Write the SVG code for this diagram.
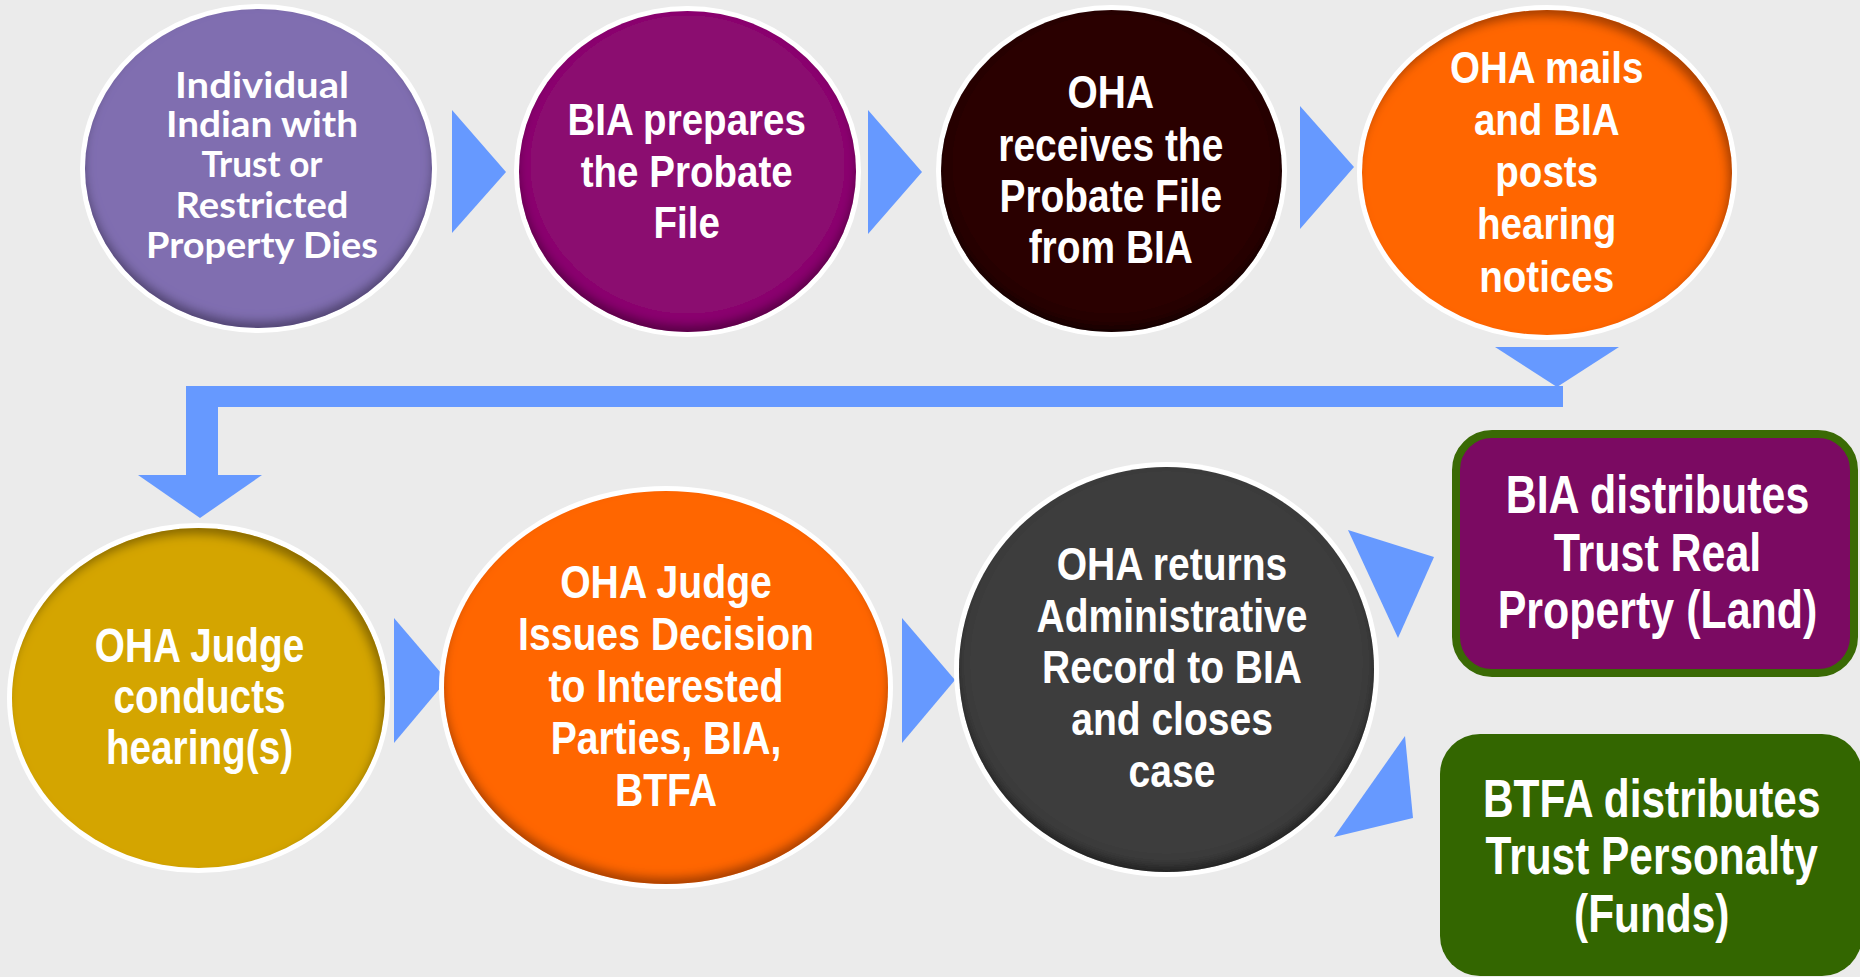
<svg xmlns="http://www.w3.org/2000/svg" width="1860" height="977" viewBox="0 0 1860 977">
  <defs>
    <style>
      .ring { fill: #ffffff; }
      .lbl { font-family: "Liberation Sans", Arial, sans-serif; font-weight: 700; fill: #ffffff; text-anchor: middle; }
      .lbl1 { font-family: Lato, "Liberation Sans", sans-serif; font-weight: 700; fill: #ffffff; text-anchor: middle; font-size: 36px; }
      .flow { fill: #6699ff; }
    </style>
    <!-- inner shadow along the lower rim -->
    <filter id="insetLow" x="-10%" y="-10%" width="120%" height="120%">
      <feComponentTransfer in="SourceAlpha" result="inv"><feFuncA type="table" tableValues="1 0"/></feComponentTransfer>
      <feGaussianBlur in="inv" stdDeviation="5"/>
      <feOffset dy="-7" result="off"/>
      <feFlood flood-color="#000000" flood-opacity="0.6"/>
      <feComposite in2="off" operator="in"/>
      <feComposite in2="SourceAlpha" operator="in" result="shadow"/>
      <feMerge><feMergeNode in="SourceGraphic"/><feMergeNode in="shadow"/></feMerge>
    </filter>
    <!-- inner shadow along the upper rim -->
    <filter id="insetHigh" x="-10%" y="-10%" width="120%" height="120%">
      <feComponentTransfer in="SourceAlpha" result="inv"><feFuncA type="table" tableValues="1 0"/></feComponentTransfer>
      <feGaussianBlur in="inv" stdDeviation="5"/>
      <feOffset dx="-4" dy="7" result="off"/>
      <feFlood flood-color="#000000" flood-opacity="0.6"/>
      <feComposite in2="off" operator="in"/>
      <feComposite in2="SourceAlpha" operator="in" result="shadow"/>
      <feMerge><feMergeNode in="SourceGraphic"/><feMergeNode in="shadow"/></feMerge>
    </filter>
  </defs>

  <rect x="0" y="0" width="1860" height="977" fill="#ebebeb"/>

  <!-- connectors -->
  <g id="connectors" class="flow">
    <polygon points="452,110 506,172 452,233"/>
    <polygon points="868,110 922,172 868,234"/>
    <polygon points="1300,106 1354,167 1300,229"/>
    <polygon points="1495,347 1619,347 1557,387"/>
    <polygon points="1563,386 186,386 186,475 218,475 218,407 1563,407"/>
    <polygon points="138,475 262,475 200,518"/>
    <polygon points="394,618 447,680 394,743"/>
    <polygon points="902,618 955,680 902,743"/>
    <polygon points="1348,530 1434,557 1398,638"/>
    <polygon points="1405,736 1413,818 1334,837"/>
  </g>

  <g id="node-dies">
    <ellipse class="ring" cx="258.5" cy="168.5" rx="178.5" ry="164.5"/>
    <ellipse cx="258.5" cy="168.5" rx="173.5" ry="159.5" fill="#806eb0" filter="url(#insetLow)"/>
    <text class="lbl1" x="262" y="98" textLength="174" lengthAdjust="spacingAndGlyphs">Individual</text>
    <text class="lbl1" x="262" y="137" textLength="192" lengthAdjust="spacingAndGlyphs">Indian with</text>
    <text class="lbl1" x="262" y="177" textLength="121" lengthAdjust="spacingAndGlyphs">Trust or</text>
    <text class="lbl1" x="262" y="218" textLength="173" lengthAdjust="spacingAndGlyphs">Restricted</text>
    <text class="lbl1" x="262" y="258" textLength="232" lengthAdjust="spacingAndGlyphs">Property Dies</text>
  </g>

  <g id="node-prepares">
    <ellipse class="ring" cx="687.5" cy="171.5" rx="173.5" ry="165.5"/>
    <ellipse cx="687.5" cy="171.5" rx="168.5" ry="160.5" fill="#8b0b6f" filter="url(#insetLow)"/>
    <g class="lbl" font-size="45" transform="translate(686.7 0) scale(0.857 1)">
      <text x="0" y="135">BIA prepares</text>
      <text x="0" y="187">the Probate</text>
      <text x="0" y="238">File</text>
    </g>
  </g>

  <g id="node-receives">
    <ellipse class="ring" cx="1111.5" cy="171" rx="175.5" ry="166"/>
    <ellipse cx="1111.5" cy="171" rx="170.5" ry="161" fill="#2c0305" filter="url(#insetLow)"/>
    <g class="lbl" font-size="46" transform="translate(1110.8 0) scale(0.846 1)">
      <text x="0" y="108">OHA</text>
      <text x="0" y="161">receives the</text>
      <text x="0" y="212">Probate File</text>
      <text x="0" y="263">from BIA</text>
    </g>
  </g>

  <g id="node-notices">
    <ellipse class="ring" cx="1547" cy="172.5" rx="190" ry="167.5"/>
    <ellipse cx="1547" cy="172.5" rx="185" ry="162.5" fill="#ff6600" filter="url(#insetHigh)"/>
    <g class="lbl" font-size="45" transform="translate(1546.7 0) scale(0.857 1)">
      <text x="0" y="83">OHA mails</text>
      <text x="0" y="135">and BIA</text>
      <text x="0" y="187">posts</text>
      <text x="0" y="239">hearing</text>
      <text x="0" y="292">notices</text>
    </g>
  </g>

  <g id="node-hearing">
    <ellipse class="ring" cx="198.5" cy="698" rx="191.5" ry="175"/>
    <ellipse cx="198.5" cy="698" rx="186.5" ry="170" fill="#d4a503" filter="url(#insetHigh)"/>
    <g class="lbl" font-size="48" transform="translate(199.5 0) scale(0.807 1)">
      <text x="0" y="662">OHA Judge</text>
      <text x="0" y="713">conducts</text>
      <text x="0" y="764">hearing(s)</text>
    </g>
  </g>

  <g id="node-decision">
    <ellipse class="ring" cx="666" cy="687.5" rx="227" ry="201.5"/>
    <ellipse cx="666" cy="687.5" rx="222" ry="196.5" fill="#ff6600" filter="url(#insetLow)"/>
    <g class="lbl" font-size="47" transform="translate(666 0) scale(0.833 1)">
      <text x="0" y="598">OHA Judge</text>
      <text x="0" y="650">Issues Decision</text>
      <text x="0" y="702">to Interested</text>
      <text x="0" y="754">Parties, BIA,</text>
      <text x="0" y="806">BTFA</text>
    </g>
  </g>

  <g id="node-returns">
    <ellipse class="ring" cx="1166.5" cy="669.5" rx="212.5" ry="207.5"/>
    <ellipse cx="1166.5" cy="669.5" rx="207.5" ry="202.5" fill="#3c3c3c" filter="url(#insetLow)"/>
    <g class="lbl" font-size="47" transform="translate(1172 0) scale(0.83 1)">
      <text x="0" y="580">OHA returns</text>
      <text x="0" y="632">Administrative</text>
      <text x="0" y="683">Record to BIA</text>
      <text x="0" y="735">and closes</text>
      <text x="0" y="787">case</text>
    </g>
  </g>

  <g id="node-land">
    <rect x="1456" y="434" width="398" height="239" rx="36" fill="#7b0a62" stroke="#3a6a05" stroke-width="8"/>
    <g class="lbl" font-size="53" transform="translate(1657.5 0) scale(0.81 1)">
      <text x="0" y="513">BIA distributes</text>
      <text x="0" y="571">Trust Real</text>
      <text x="0" y="628">Property (Land)</text>
    </g>
  </g>

  <g id="node-funds">
    <rect x="1440" y="734" width="422" height="242" rx="40" fill="#336600"/>
    <g class="lbl" font-size="53" transform="translate(1651.7 0) scale(0.80 1)">
      <text x="0" y="817">BTFA distributes</text>
      <text x="0" y="874">Trust Personalty</text>
      <text x="0" y="932">(Funds)</text>
    </g>
  </g>
</svg>
